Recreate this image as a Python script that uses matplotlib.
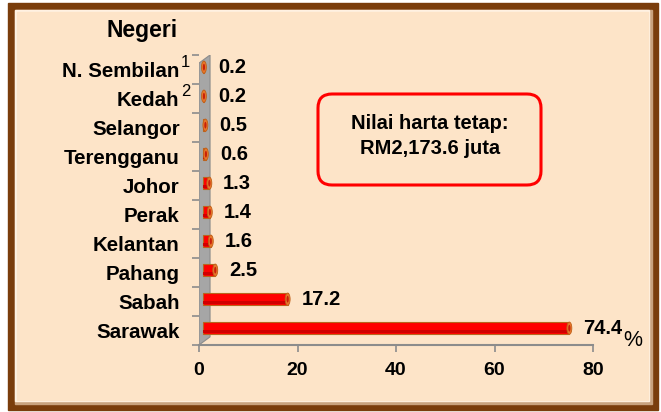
import matplotlib.pyplot as plt
import numpy as np
from matplotlib.patches import Rectangle, Ellipse, FancyBboxPatch, Polygon

plt.rcParams['font.family'] = ['Liberation Sans', 'DejaVu Sans']

# data (bottom to top)
states = ["Sarawak", "Sabah", "Pahang", "Kelantan", "Perak", "Johor",
          "Terengganu", "Selangor", "Kedah", "N. Sembilan"]
shares = [74.4, 17.2, 2.5, 1.6, 1.4, 1.3, 0.6, 0.5, 0.2, 0.2]
notes = {"N. Sembilan": "1", "Kedah": "2"}
x_ticks = [0, 20, 40, 60, 80]

W, H = 661, 412
PEACH = "#FDE4C8"
BROWN = "#7A3D0C"
DEPTH = 0.8      # 3d offset of the bars from the wall
BAR_H = 0.42


def main():
    fig = plt.figure(figsize=(W / 100, H / 100), dpi=100)
    fig.patch.set_facecolor("white")

    # background / frame drawn in pixel coordinates
    bg = fig.add_axes([0, 0, 1, 1], zorder=0)
    bg.set_xlim(0, W)
    bg.set_ylim(H, 0)
    bg.axis("off")
    bg.add_patch(Rectangle((8, 3), 650, 407, color=BROWN))
    bg.add_patch(Rectangle((15, 10), 637, 394, color="#C9A27E"))
    bg.add_patch(Rectangle((15, 10), 634, 391, color="#FFF1E2"))
    bg.add_patch(Rectangle((17, 12), 631, 388, color=PEACH))

    # text box
    bg.add_patch(FancyBboxPatch((318, 94), 223, 91,
                                boxstyle="round,pad=0,rounding_size=14",
                                facecolor="none", edgecolor="#FF0000", lw=2.2))
    bg.text(430, 123, "Nilai harta tetap:", ha="center", va="center",
            fontsize=14.5, fontweight="bold")
    bg.text(430, 149, "RM2,173.6 juta", ha="center", va="center",
            fontsize=14.5, fontweight="bold")

    bg.text(142, 30, "Negeri", ha="center", va="center",
            fontsize=16.5, fontweight="bold")
    bg.text(623, 340, "%", ha="left", va="center", fontsize=15.5)

    # main chart
    ax = fig.add_axes([199 / W, (H - 345) / H, 394 / W, 290 / H], zorder=1)
    ax.patch.set_alpha(0)
    y = np.arange(len(states))
    ax.set_xlim(0, 80)
    ax.set_ylim(-0.5, len(states) - 0.5)

    # grey side wall
    wall = Polygon([(0, 0), (0, 0.972), (0.028, 1.0), (0.028, 0.028)],
                   closed=True, transform=ax.transAxes,
                   facecolor="#A6A6A6", edgecolor="#8C8C8C", lw=0.8, zorder=1)
    ax.add_patch(wall)

    yb = y + 0.08
    ax.barh(yb, shares, left=DEPTH, height=BAR_H, color="#FF0000",
            edgecolor="#B8651E", lw=0.8, zorder=3)
    ax.barh(yb - 0.12, shares, left=DEPTH, height=0.12, color="#D00000",
            lw=0, zorder=3)
    for yi, v in zip(yb, shares):
        ax.add_patch(Ellipse((DEPTH + v, yi), 1.0, BAR_H, facecolor="#E8782A",
                             edgecolor="#C0601A", lw=0.6, zorder=4))
        ax.add_patch(Ellipse((DEPTH + v, yi), 0.45, BAR_H * 0.55,
                             facecolor="#C8200A", lw=0, zorder=5))
        ax.annotate(f"{v}", (DEPTH + v, yi), xytext=(10, 0),
                    textcoords="offset points", ha="left", va="center",
                    fontsize=14.5, fontweight="bold", annotation_clip=False)

    for side in ["top", "right", "left"]:
        ax.spines[side].set_visible(False)
    ax.spines["bottom"].set_color("#8C8C8C")
    ax.spines["bottom"].set_linewidth(1.5)

    ax.set_xticks(x_ticks)
    ax.set_xticklabels([str(t) for t in x_ticks], fontsize=14, fontweight="bold")
    ax.tick_params(axis="x", length=5, width=1.2, color="#8C8C8C", pad=7)

    ax.set_yticks(y)
    ax.set_yticklabels(states, fontsize=14.8, fontweight="bold")
    ax.set_yticks(np.arange(len(states) + 1) - 0.5, minor=True)
    ax.tick_params(axis="y", which="major", length=0, pad=14)
    ax.tick_params(axis="y", which="minor", length=5, width=1.2,
                   color="#8C8C8C")

    for yi, s in zip(y, states):
        if s in notes:
            ax.annotate(notes[s], (0, yi), xycoords=("axes fraction", "data"),
                        xytext=(-13, 5), textcoords="offset points",
                        ha="left", va="center", fontsize=12)

    fig.savefig("out.png", dpi=100)
    plt.close(fig)


if __name__ == '__main__':
    main()
